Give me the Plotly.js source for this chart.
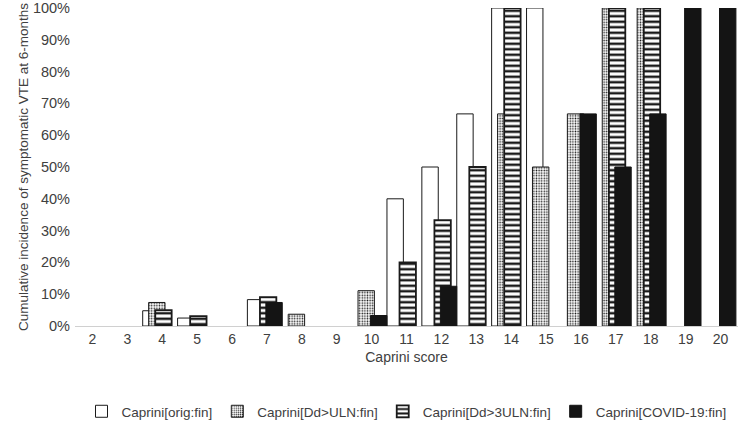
<!DOCTYPE html>
<html>
<head>
<meta charset="utf-8">
<script src="https://cdn.plot.ly/plotly-3.0.1.min.js"></script>
<style>
  html, body { margin: 0; padding: 0; background: #fff; }
  #chart { width: 738px; height: 427px; }
</style>
</head>
<body>
<div id="chart"></div>
<script>
// Caprini score categories
const scores = ['2', '3', '4', '5', '6', '7', '8', '9', '10', '11', '12', '13', '14', '15', '16', '17', '18', '19', '20'];

// cumulative incidence (%) per score, null = no bar
const origFin    = [null, null, 4.8, 2.5, null, 8.3, null, null, null, 40, 50, 66.7, 100, 100, null, null, null, null, null];
const ddUlnFin   = [null, null, 7.4, null, null, null, 3.7, null, 11.1, null, null, null, 66.7, 50, 66.7, 100, 100, null, null];
const dd3UlnFin  = [null, null, 5, 3.1, null, 9.1, null, null, null, 20, 33.3, 50, 100, null, null, 100, 100, null, null];
const covidFin   = [null, null, null, null, null, 7.4, null, null, 3.3, null, 12.5, null, null, null, 66.7, 50, 66.7, 100, 100];

const seriesNames = ['Caprini[orig:fin]', 'Caprini[Dd&gt;ULN:fin]', 'Caprini[Dd&gt;3ULN:fin]', 'Caprini[COVID-19:fin]'];

const barWidth = 0.47;
const txt = '#404040';

const traces = [
    {
        name: seriesNames[0], y: origFin, offset: -0.56,
        marker: { color: '#ffffff', line: { color: '#1a1a1a', width: 1 } }
    },
    {
        name: seriesNames[1], y: ddUlnFin, offset: -0.39,
        marker: {
            color: '#ffffff', line: { color: '#1a1a1a', width: 1 },
            pattern: { shape: '.', fgcolor: '#1a1a1a', bgcolor: '#ffffff', size: 2.6, solidity: 0.3 }
        }
    },
    {
        name: seriesNames[2], y: dd3UlnFin, offset: -0.2,
        marker: {
            color: '#ffffff', line: { color: '#1a1a1a', width: 1.8 },
            pattern: { shape: '-', fgcolor: '#1a1a1a', bgcolor: '#ffffff', size: 5.5, solidity: 0.45 }
        }
    },
    {
        name: seriesNames[3], y: covidFin, offset: -0.03,
        marker: { color: '#141414', line: { color: '#141414', width: 1 } }
    }
].map(t => Object.assign({ type: 'bar', x: scores, width: barWidth, hoverinfo: 'skip' }, t));

const layout = {
    width: 738,
    height: 427,
    margin: { l: 75, r: 0, t: 8, b: 100 },
    paper_bgcolor: '#ffffff',
    plot_bgcolor: '#ffffff',
    barmode: 'overlay',
    font: { family: 'Liberation Sans, Arial, sans-serif', size: 13, color: txt },
    xaxis: {
        type: 'category',
        range: [-0.5, 18.5],
        showgrid: false,
        showline: true,
        linecolor: '#d0d0d0',
        linewidth: 1,
        ticks: '',
        tickfont: { size: 14, color: txt },
        title: { text: 'Caprini score', font: { size: 14, color: txt }, standoff: 6 }
    },
    yaxis: {
        range: [0, 100],
        dtick: 10,
        ticksuffix: '%',
        showgrid: false,
        zeroline: false,
        showline: false,
        ticks: '',
        ticklabelstandoff: 4,
        tickfont: { size: 14.5, color: txt },
        title: { text: 'Cumulative incidence of symptomatic VTE at 6-months', font: { size: 13.5, color: txt }, standoff: 1 }
    },
    legend: {
        orientation: 'h',
        x: 0.5, xanchor: 'center',
        y: -0.27, yanchor: 'middle',
        font: { size: 13.5, color: txt },
        traceorder: 'normal'
    },
    showlegend: true
};

Plotly.newPlot('chart', traces, layout, { displayModeBar: false, staticPlot: true });
</script>
</body>
</html>
